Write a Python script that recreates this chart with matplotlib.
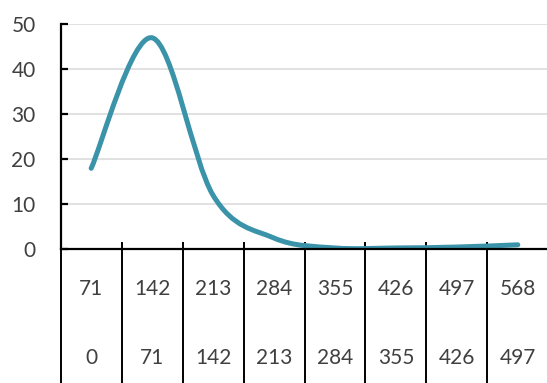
import matplotlib
matplotlib.use("Agg")
import matplotlib.pyplot as plt
from matplotlib.path import Path
from matplotlib.patches import PathPatch
import numpy as np

# ---- data ----
top_labels = ["71", "142", "213", "284", "355", "426", "497", "568"]
bottom_labels = ["0", "71", "142", "213", "284", "355", "426", "497"]
values = [18, 47, 12, 2.5, 0.3, 0.3, 0.5, 1.0]
y_ticks = [0, 10, 20, 30, 40, 50]

LINE_COLOR = "#3A93A8"
TEXT_COLOR = "#404040"
GRID_COLOR = "#D9D9D9"
FONT = ["Lato", "DejaVu Sans"]
FS = 15

W, H = 547, 383
fig = plt.figure(figsize=(W / 100, H / 100), dpi=100)
left_px, right_px = 60.7, 548.3
top_px, bottom_px = 24.3, 249.3
ax = fig.add_axes([left_px / W, 1 - bottom_px / H,
                   (right_px - left_px) / W, (bottom_px - top_px) / H])

n = len(values)
ax.set_xlim(0, n)
ax.set_ylim(0, 50)

# smooth line (Catmull-Rom style cubic Bezier, as Excel smoothing)
xs = np.arange(n) + 0.5
ys = np.array(values, dtype=float)
P = np.column_stack([xs, ys])
verts = [tuple(P[0])]
codes = [Path.MOVETO]
for i in range(n - 1):
    p0 = P[i - 1] if i > 0 else P[i]
    p1 = P[i]
    p2 = P[i + 1]
    p3 = P[i + 2] if i + 2 < n else P[i + 1]
    c1 = p1 + (p2 - p0) / 6.0
    c2 = p2 - (p3 - p1) / 6.0
    verts += [tuple(c1), tuple(c2), tuple(p2)]
    codes += [Path.CURVE4] * 3
patch = PathPatch(Path(verts, codes), facecolor="none", edgecolor=LINE_COLOR,
                  lw=3.6, capstyle="round", joinstyle="round", zorder=5)
ax.add_patch(patch)

# grid
ax.set_yticks(y_ticks)
ax.yaxis.grid(True, color=GRID_COLOR, lw=1.1)
ax.set_axisbelow(True)

for s in ["top", "right"]:
    ax.spines[s].set_visible(False)
for s in ["left", "bottom"]:
    ax.spines[s].set_color("black")
    ax.spines[s].set_linewidth(1.6)
ax.spines["bottom"].set_zorder(6)

ax.tick_params(axis="y", direction="in", length=5, width=1.6, color="black",
               pad=18, labelsize=FS, labelcolor=TEXT_COLOR)
for lab in ax.get_yticklabels():
    lab.set_family(FONT)

# x axis: ticks at category boundaries, multi-level labels
ax.set_xticks(np.arange(0, n + 1))
ax.tick_params(axis="x", direction="in", length=5.3, width=1.4, color="black",
               labelbottom=False)

trans = ax.get_xaxis_transform()
y_low = (bottom_px - 383) / (bottom_px - top_px)
for b in range(0, n + 1):
    ax.plot([b, b], [0, y_low - 0.05], transform=trans, color="black", lw=1.4,
            clip_on=False, zorder=4)

y_top_row = (bottom_px - 289) / (bottom_px - top_px)
y_bot_row = (bottom_px - 357.5) / (bottom_px - top_px)
for i in range(n):
    ax.text(i + 0.5, y_top_row, top_labels[i], transform=trans, ha="center",
            va="center", fontsize=FS, color=TEXT_COLOR, family=FONT)
    ax.text(i + 0.5, y_bot_row, bottom_labels[i], transform=trans, ha="center",
            va="center", fontsize=FS, color=TEXT_COLOR, family=FONT)

fig.savefig("out.png", dpi=100)
